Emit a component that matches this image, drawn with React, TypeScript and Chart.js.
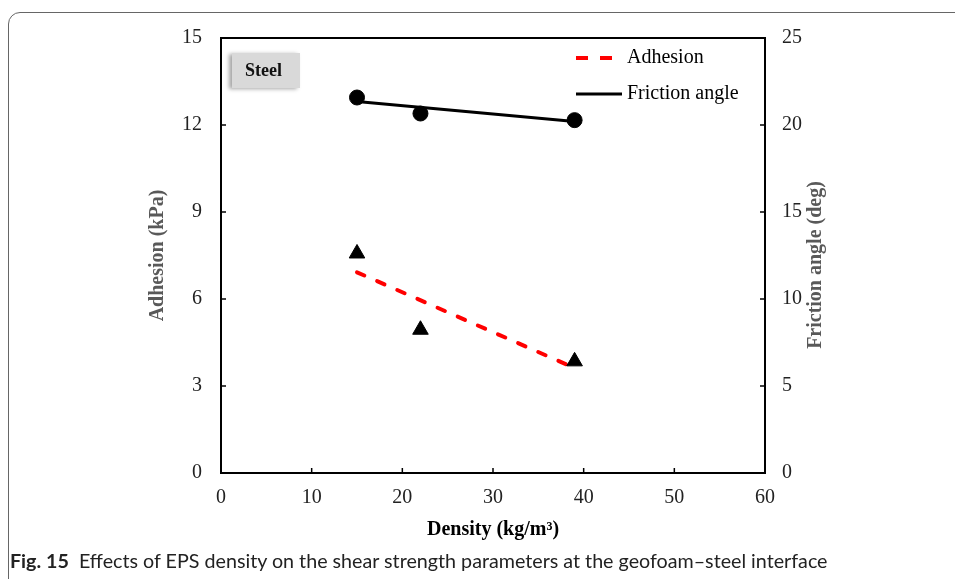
import React, { useEffect, useRef } from "react";
import { Chart, registerables } from "chart.js";

Chart.register(...registerables);

const densities = [15, 22, 39];
const adhesion = [7.57, 4.94, 3.85];
const friction = [21.58, 20.66, 20.28];
const trendX = [15, 39];
const adhesionTrend = [6.92, 3.62];
const frictionTrend = [21.35, 20.2];

const xTicks = [0, 10, 20, 30, 40, 50, 60];
const yLeftTicks = [0, 3, 6, 9, 12, 15];
const yRightTicks = [0, 5, 10, 15, 20, 25];

const SERIF = "'Liberation Serif', 'Times New Roman', serif";

const framePlugin = {
  id: "framePlugin",
  afterDraw(chart: any) {
    const { ctx, chartArea } = chart;
    const { left, right, top, bottom } = chartArea;
    ctx.save();
    ctx.strokeStyle = "#000";
    ctx.lineWidth = 2;
    ctx.strokeRect(left, top, right - left, bottom - top);
    ctx.lineWidth = 1.5;
    const tl = 5;
    const xs = chart.scales.x;
    xTicks.forEach((v) => {
      const px = xs.getPixelForValue(v);
      ctx.beginPath();
      ctx.moveTo(px, bottom);
      ctx.lineTo(px, bottom - tl);
      ctx.stroke();
    });
    const ys = chart.scales.y;
    yLeftTicks.forEach((v) => {
      const py = ys.getPixelForValue(v);
      ctx.beginPath();
      ctx.moveTo(left, py);
      ctx.lineTo(left + tl, py);
      ctx.stroke();
    });
    const y1 = chart.scales.y1;
    yRightTicks.forEach((v) => {
      const py = y1.getPixelForValue(v);
      ctx.beginPath();
      ctx.moveTo(right, py);
      ctx.lineTo(right - tl, py);
      ctx.stroke();
    });

    // right axis title (reads bottom-to-top)
    ctx.save();
    ctx.translate(816, 265);
    ctx.rotate(-Math.PI / 2);
    ctx.fillStyle = "#595959";
    ctx.font = `bold 20px ${SERIF}`;
    ctx.textAlign = "center";
    ctx.textBaseline = "middle";
    ctx.fillText("Friction angle (deg)", 0, 0);
    ctx.restore();

    // legend
    ctx.font = `20px ${SERIF}`;
    ctx.textAlign = "left";
    ctx.textBaseline = "middle";
    ctx.fillStyle = "#000";
    ctx.strokeStyle = "#ff0000";
    ctx.lineWidth = 4;
    ctx.setLineDash([12, 12]);
    ctx.beginPath();
    ctx.moveTo(576, 58);
    ctx.lineTo(614, 58);
    ctx.stroke();
    ctx.setLineDash([]);
    ctx.fillText(chart.data.datasets[1].label, 627, 58);
    ctx.strokeStyle = "#000";
    ctx.lineWidth = 3;
    ctx.beginPath();
    ctx.moveTo(576, 94);
    ctx.lineTo(622, 94);
    ctx.stroke();
    ctx.fillText(chart.data.datasets[3].label, 627, 94);
    ctx.restore();
  },
};

export default function App() {
  const canvasRef = useRef<HTMLCanvasElement | null>(null);

  useEffect(() => {
    const canvas = canvasRef.current;
    if (!canvas) return;
    const chart = new Chart(canvas, {
      type: "scatter",
      data: {
        datasets: [
          {
            label: "Adhesion data",
            data: densities.map((x, i) => ({ x, y: adhesion[i] })),
            yAxisID: "y",
            pointStyle: "triangle",
            pointRadius: 9,
            pointBackgroundColor: "#000",
            pointBorderColor: "#000",
            showLine: false,
          },
          {
            label: "Adhesion",
            data: trendX.map((x, i) => ({ x, y: adhesionTrend[i] })),
            yAxisID: "y",
            showLine: true,
            borderColor: "#ff0000",
            borderWidth: 4,
            borderDash: [8, 14],
            borderCapStyle: "round",
            pointRadius: 0,
          },
          {
            label: "Friction data",
            data: densities.map((x, i) => ({ x, y: friction[i] })),
            yAxisID: "y1",
            pointStyle: "circle",
            pointRadius: 7.5,
            pointBackgroundColor: "#000",
            pointBorderColor: "#000",
            showLine: false,
          },
          {
            label: "Friction angle",
            data: trendX.map((x, i) => ({ x, y: frictionTrend[i] })),
            yAxisID: "y1",
            showLine: true,
            borderColor: "#000",
            borderWidth: 3,
            pointRadius: 0,
          },
        ],
      },
      options: {
        animation: false,
        responsive: true,
        maintainAspectRatio: false,
        layout: { padding: { left: 146, right: 136, top: 38, bottom: 37 } },
        plugins: { legend: { display: false }, tooltip: { enabled: false } },
        scales: {
          x: {
            type: "linear",
            min: 0,
            max: 60,
            afterBuildTicks: (s: any) => {
              s.ticks = xTicks.map((v) => ({ value: v }));
            },
            grid: { display: false, drawTicks: false, drawOnChartArea: false },
            border: { display: false },
            ticks: { color: "#222", padding: 13, font: { family: SERIF, size: 20 } },
            title: {
              display: true,
              text: "Density (kg/m³)",
              color: "#000",
              padding: { top: -5, bottom: 0 },
              font: { family: SERIF, size: 20, weight: "bold" },
            },
          },
          y: {
            type: "linear",
            position: "left",
            min: 0,
            max: 15,
            afterBuildTicks: (s: any) => {
              s.ticks = yLeftTicks.map((v) => ({ value: v }));
            },
            grid: { display: false, drawTicks: false, drawOnChartArea: false },
            border: { display: false },
            ticks: { color: "#222", padding: 19, font: { family: SERIF, size: 20 } },
            title: {
              display: true,
              text: "Adhesion (kPa)",
              color: "#595959",
              padding: { top: 0, bottom: -7 },
              font: { family: SERIF, size: 20, weight: "bold" },
            },
          },
          y1: {
            type: "linear",
            position: "right",
            min: 0,
            max: 25,
            afterBuildTicks: (s: any) => {
              s.ticks = yRightTicks.map((v) => ({ value: v }));
            },
            grid: { display: false, drawTicks: false, drawOnChartArea: false },
            border: { display: false },
            ticks: { color: "#222", padding: 17, font: { family: SERIF, size: 20 } },
          },
        },
      },
      plugins: [framePlugin],
    });
    return () => chart.destroy();
  }, []);

  return (
    <div style={{ position: "fixed", left: 0, top: 0, width: 955, height: 579, background: "#fff", overflow: "hidden" }}>
      <div
        style={{
          position: "absolute",
          left: 8,
          top: 12,
          width: 970,
          height: 600,
          border: "1.5px solid #666",
          borderRadius: 12,
          boxSizing: "border-box",
        }}
      />
      <div style={{ position: "absolute", left: 0, top: 0, width: 955, height: 579 }}>
        <canvas ref={canvasRef} />
      </div>
      <div
        style={{
          position: "absolute",
          left: 232,
          top: 53,
          width: 68,
          height: 35,
          background: "#d9d9d9",
          boxShadow: "-3px 1px 4px rgba(0,0,0,0.35)",
          fontFamily: SERIF,
          fontWeight: "bold",
          fontSize: 18,
          lineHeight: "35px",
          paddingLeft: 13,
          boxSizing: "border-box",
          color: "#111",
        }}
      >
        Steel
      </div>
      <div
        style={{
          position: "absolute",
          left: 10,
          top: 549,
          fontFamily: "Lato, 'Noto Sans', sans-serif",
          fontSize: 19.7,
          color: "#222",
          whiteSpace: "nowrap",
          lineHeight: "24px",
        }}
      >
        <b>Fig. 15</b>&nbsp; Effects of EPS density on the shear strength parameters at the geofoam–steel interface
      </div>
    </div>
  );
}
